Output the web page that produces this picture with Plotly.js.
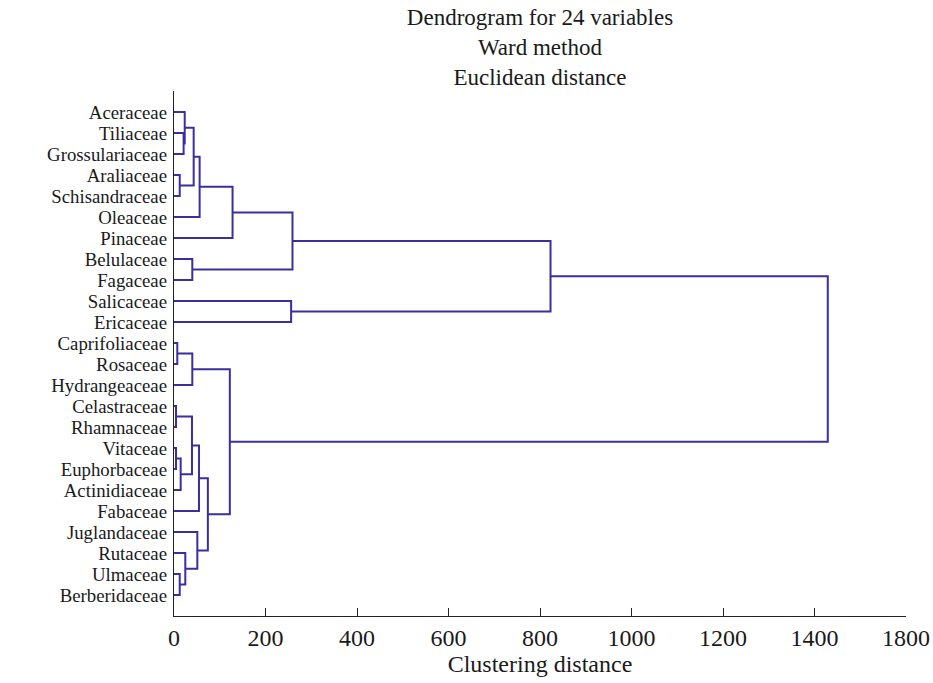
<!DOCTYPE html>
<html>
<head>
<meta charset="utf-8">
<script src="https://cdn.plot.ly/plotly-3.0.1.min.js"></script>
<style>html,body{margin:0;padding:0;background:#fff;}#chart{width:933px;height:683px;}</style>
</head>
<body>
<div id="chart"></div>
<script>
// Leaves in display order (top to bottom)
const leafNames = [
  "Aceraceae","Tiliaceae","Grossulariaceae","Araliaceae","Schisandraceae",
  "Oleaceae","Pinaceae","Belulaceae","Fagaceae","Salicaceae","Ericaceae",
  "Caprifoliaceae","Rosaceae","Hydrangeaceae","Celastraceae","Rhamnaceae",
  "Vitaceae","Euphorbaceae","Actinidiaceae","Fabaceae","Juglandaceae",
  "Rutaceae","Ulmaceae","Berberidaceae"
];
// Linkage: "#k" refers to the cluster formed by the k-th merge
const mergeLeft  = ["Celastraceae","Vitaceae","Caprifoliaceae","Araliaceae","Ulmaceae",
  "#1","Tiliaceae","Aceraceae","Rutaceae","Belulaceae","#2","#0","#7","Juglandaceae",
  "#12","#11","#15","#10","#14","Salicaceae","#18","#20","#21"];
const mergeRight = ["Rhamnaceae","Euphorbaceae","Rosaceae","Schisandraceae","Berberidaceae",
  "Actinidiaceae","Grossulariaceae","#6","#4","Fagaceae","Hydrangeaceae","#5","#3","#8",
  "Oleaceae","Fabaceae","#13","#16","Pinaceae","Ericaceae","#9","#19","#17"];
const mergeHeight = [4.4, 4.4, 7.2, 12.5, 12.5, 14.6, 21, 23.4, 24.7, 40, 40, 39.3, 43, 51,
  56, 54.6, 74, 122, 128, 256, 259, 823, 1429];

// Tick labels as printed in the reference (the last tick is labelled 1800)
const xTickVals = [0,200,400,600,800,1000,1200,1400,1600];
const xTickText = ["0","200","400","600","800","1000","1200","1400","1800"];
const lineColor = "rgb(58,46,160)";

// compute node positions
const nodeY = {}, nodeH = {};
leafNames.forEach((n,i)=>{ nodeY[n] = i+1; nodeH[n] = 0; });
const xs = [], ys = [];
mergeHeight.forEach((h,k)=>{
  const a = mergeLeft[k], b = mergeRight[k];
  xs.push(nodeH[a], h, h, nodeH[b], null);
  ys.push(nodeY[a], nodeY[a], nodeY[b], nodeY[b], null);
  const id = "#"+k;
  nodeY[id] = (nodeY[a]+nodeY[b])/2;
  nodeH[id] = h;
});

const font = "Liberation Serif, Times New Roman, serif";
Plotly.newPlot("chart", [{
  type: "scatter", mode: "lines", x: xs, y: ys,
  line: {color: lineColor, width: 2}, hoverinfo: "skip", connectgaps: false
}], {
  width: 933, height: 683,
  margin: {l: 174, r: 27, t: 91, b: 67},
  paper_bgcolor: "#fff", plot_bgcolor: "#fff",
  showlegend: false,
  title: {
    text: "Dendrogram for 24 variables<br>Ward method<br>Euclidean distance",
    font: {family: font, size: 23, color: "#1a1a1a"},
    x: 0.5, xanchor: "center", xref: "paper",
    y: 1 - 25/683, yanchor: "top", yref: "container"
  },
  xaxis: {
    range: [0, 1600], tickvals: xTickVals, ticktext: xTickText,
    ticks: "inside", ticklen: 8, tickwidth: 1, tickcolor: "#222",
    showline: true, linecolor: "#222", linewidth: 1.2,
    showgrid: false, zeroline: false,
    tickfont: {family: font, size: 24, color: "#1a1a1a"},
    title: {text: "Clustering distance", font: {family: font, size: 24, color: "#1a1a1a"}, standoff: 2}
  },
  yaxis: {
    range: [25, 0], tickvals: leafNames.map((_,i)=>i+1), ticktext: leafNames,
    ticks: "", showline: true, linecolor: "#222", linewidth: 1.2,
    showgrid: false, zeroline: false, ticklabelstandoff: 2,
    tickfont: {family: font, size: 18.8, color: "#1a1a1a"}
  }
}, {displayModeBar: false, staticPlot: true});
</script>
</body>
</html>
